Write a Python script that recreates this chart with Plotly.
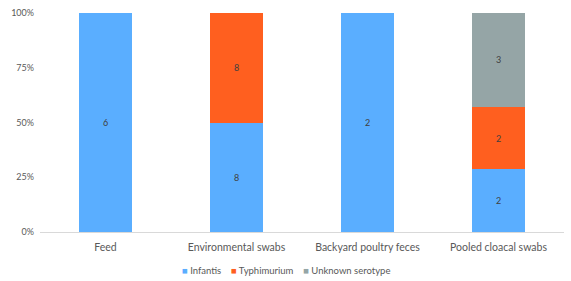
import plotly.graph_objects as go

categories = ["Feed", "Environmental swabs", "Backyard poultry feces", "Pooled cloacal swabs"]
infantis = [6, 8, 2, 2]
typhimurium = [0, 8, 0, 2]
unknown = [0, 0, 0, 3]
y_ticks = [0, 25, 50, 75, 100]
y_tick_labels = ["0%", "25%", "50%", "75%", "100%"]

series = [
    ("Infantis", infantis, "#5AAEFF"),
    ("Typhimurium", typhimurium, "#FF5F1F"),
    ("Unknown serotype", unknown, "#95A5A6"),
]

fig = go.Figure()
for name, vals, color in series:
    fig.add_trace(go.Bar(
        name=name, x=categories, y=vals,
        marker=dict(color=color, line=dict(width=0)),
        text=[str(v) if v else "" for v in vals],
        textposition="inside", insidetextanchor="middle",
        textfont=dict(color="#404040", size=9),
        hoverinfo="skip", showlegend=False,
    ))

# compact legend, built from the series names and colours
legend_text = "    ".join(
    f"<span style='color:{c}'>■</span> {n}" for n, _, c in series
)
fig.add_annotation(text=legend_text, xref="paper", yref="paper", x=0.47, y=-0.174,
                   xanchor="center", yanchor="middle", showarrow=False,
                   font=dict(size=9.5, color="#595959"))

fig.update_layout(
    barmode="stack", barnorm="percent", bargap=0.6,
    width=571, height=281,
    margin=dict(l=40, r=7, t=13, b=49),
    paper_bgcolor="white", plot_bgcolor="white",
    font=dict(family="Lato, Open Sans, sans-serif", size=9, color="#595959"),
    showlegend=False,
    uniformtext=dict(minsize=8, mode="show"),
)
fig.update_xaxes(showline=True, linecolor="#D9D9D9", linewidth=1, ticks="", showgrid=False,
                 automargin=False, ticklabelstandoff=5,
                 tickfont=dict(size=10.5, color="#595959"))
fig.update_yaxes(range=[0, 100], tickvals=y_ticks, ticktext=y_tick_labels, showgrid=False,
                 automargin=False, zeroline=False, showline=False, ticks="",
                 ticklabelstandoff=5, tickfont=dict(size=9, color="#595959"))

fig.write_html("out.html", config={"displayModeBar": False},
               post_script="document.body.style.margin='0';")
